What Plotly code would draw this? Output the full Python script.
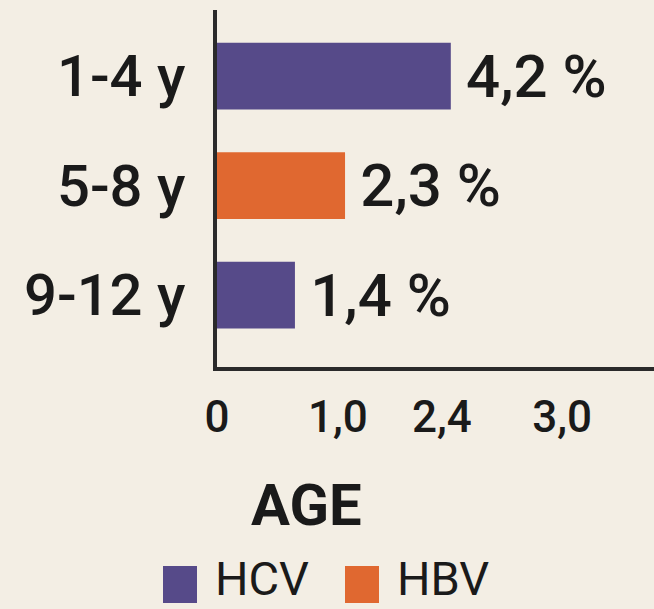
import plotly.graph_objects as go

# -------------------------------------------------
# Data
# -------------------------------------------------
age_groups = ["1-4 y", "5-8 y", "9-12 y"]
hcv_groups = ["1-4 y", "9-12 y"]
hcv_values = [4.2, 1.4]
hbv_groups = ["5-8 y"]
hbv_values = [2.3]
tick_vals = [0, 2.17, 4.04, 6.2]
tick_text = ["0", "1,0", "2,4", "3,0"]

HCV_COLOR = "#564A89"
HBV_COLOR = "#E06830"
BG = "#F3EEE4"
INK = "#1a1a1a"
FONT = "Roboto, 'Liberation Sans', sans-serif"

# plot area in pixels (left, right, top, bottom)
PL, PR, PT, PB = 217, 654, 10, 367


def pct(v):
    # thin space in front keeps the label a little off the bar end
    return "\u2009" + f"{v:.1f}".replace(".", ",") + " %"


def px_x(x):
    return (x - PL) / (PR - PL)


def px_y(y):
    return (PB - y) / (PB - PT)


fig = go.Figure()
for groups, values, name, color in [
    (hcv_groups, hcv_values, "HCV", HCV_COLOR),
    (hbv_groups, hbv_values, "HBV", HBV_COLOR),
]:
    fig.add_trace(go.Bar(
        y=groups, x=values, orientation="h", name=name,
        marker=dict(color=color, line=dict(width=0)),
        text=[pct(v) for v in values], textposition="outside",
        constraintext="none",
        textfont=dict(size=60, color=INK, family=FONT, weight=500),
        width=0.61, showlegend=False, cliponaxis=False,
    ))

fig.update_layout(
    width=654, height=609,
    paper_bgcolor=BG, plot_bgcolor=BG,
    margin=dict(l=PL, r=654 - PR, t=PT, b=609 - PB),
    barmode="overlay",
    font=dict(family=FONT, color=INK),
)
fig.update_xaxes(
    range=[0, 7.85], tickvals=tick_vals, ticktext=tick_text,
    showgrid=False, zeroline=False, showline=True,
    linecolor="#2a2a2a", linewidth=4, ticks="",
    tickfont=dict(size=44, family=FONT, weight=500), ticklabelstandoff=8,
)
fig.update_yaxes(
    categoryorder="array", categoryarray=age_groups,
    range=[2.657, -0.603],
    showgrid=False, zeroline=False, showline=True,
    linecolor="#2a2a2a", linewidth=4, ticks="",
    tickfont=dict(size=58, family=FONT, weight=500), ticklabelstandoff=16,
)

# axis title
fig.add_annotation(
    xref="paper", yref="paper", x=px_x(306), y=px_y(505),
    xanchor="center", yanchor="middle", text="<b>AGE</b>",
    showarrow=False, font=dict(size=58, family=FONT, color=INK),
)

# manual legend (large squares)
legend_items = [("HCV", HCV_COLOR, 163), ("HBV", HBV_COLOR, 345)]
for label, color, x0 in legend_items:
    fig.add_shape(
        type="rect", xref="paper", yref="paper",
        x0=px_x(x0), x1=px_x(x0 + 34),
        y0=px_y(603), y1=px_y(566),
        fillcolor=color, line=dict(width=0),
    )
    fig.add_annotation(
        xref="paper", yref="paper", x=px_x(x0 + 50), y=px_y(608),
        xanchor="left", yanchor="bottom", text=label, showarrow=False,
        font=dict(size=47, family=FONT, color=INK),
    )

fig.write_html(
    "out.html",
    config={"displayModeBar": False},
    post_script="document.body.style.margin='0';document.body.style.overflow='hidden';",
)
